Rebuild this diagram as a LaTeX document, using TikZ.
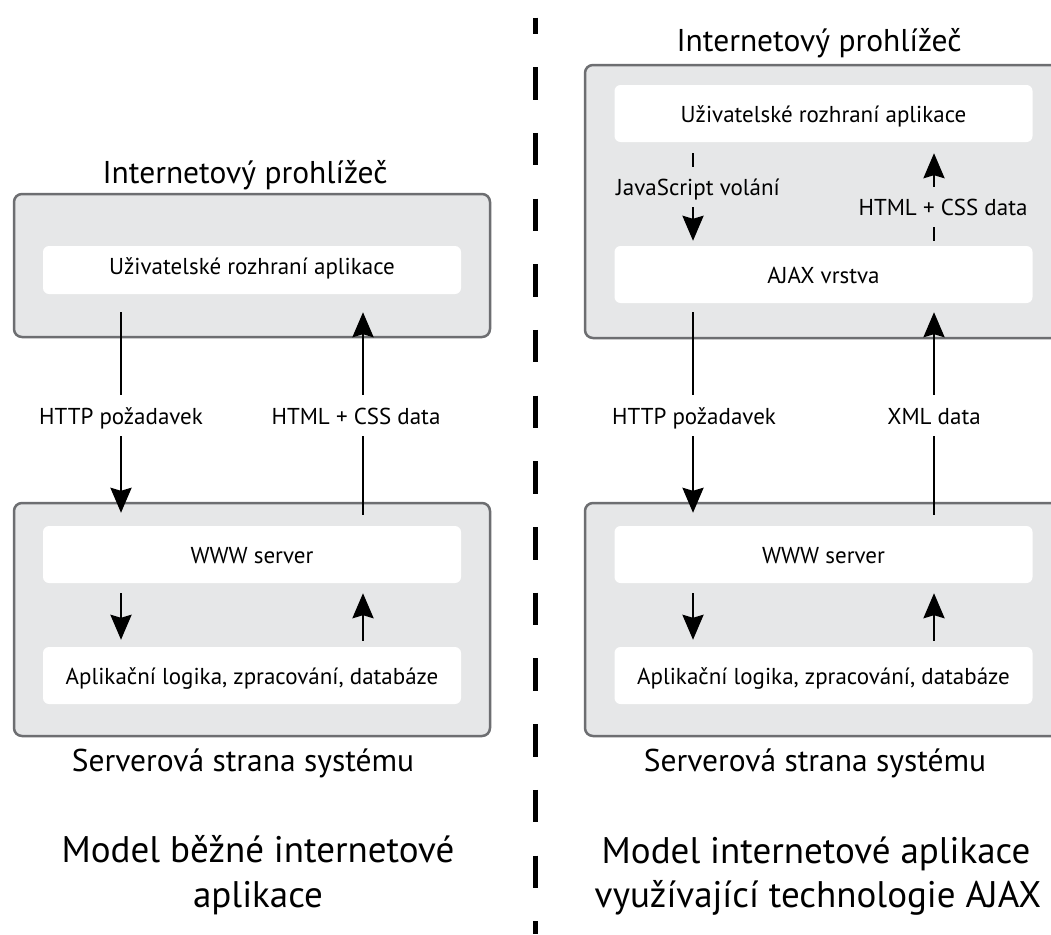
\documentclass[tikz,border=0pt]{standalone}
\usepackage{fontspec}
\setmainfont{PT Sans}
\usetikzlibrary{arrows.meta}
\definecolor{panelfill}{HTML}{E6E7E8}
\definecolor{panelline}{HTML}{6D6E71}
\tikzset{
  panel/.style={draw=panelline, line width=2.5pt, fill=panelfill, rounded corners=8pt,
    minimum width=476pt, inner sep=0pt},
  layer/.style={fill=white, rounded corners=6pt, minimum width=418pt, minimum height=57pt,
    inner sep=0pt, font=\fontsize{23}{27}\selectfont, text height=17pt, text depth=0pt},
  flowlabel/.style={inner sep=0pt, font=\fontsize{23}{27}\selectfont, text height=17pt, text depth=0pt},
  heading/.style={anchor=base, inner sep=0pt, font=\fontsize{31.5}{36}\selectfont},
  caption/.style={anchor=base, inner sep=0pt, font=\fontsize{37}{44}\selectfont},
  flow/.style={line width=2.7pt},
  flowtip/.style={flow, -{Stealth[length=25pt, width=21pt, inset=3pt]}},
}
\begin{document}
\begin{tikzpicture}[x=1pt, y=-1pt]
\clip (0,0) rectangle (1051,934);
\fill[white] (0,0) rectangle (1051,934);

% column positions of the vertical flows
\coordinate (xa) at (121,0);
\coordinate (xb) at (363,0);
\coordinate (xc) at (693,0);
\coordinate (xd) at (934,0);

% ---------------- classic model ----------------
\node[panel, minimum height=143pt] (browserA) at (252,265.5) {};
\node[panel, minimum height=233pt] (serverA) at (252,619.5) {};
\node[layer, minimum height=48pt, text depth=8pt] (uiA) at (252,270) {Uživatelské rozhraní aplikace};
\node[layer] (wwwA) at (252,554.5) {WWW server};
\node[layer] (appA) at (252,675.5) {Aplikační logika, zpracování, databáze};

\node[heading] (titleA) at (245,183) {Internetový prohlížeč};
\node[heading] (sideA) at (243,771) {Serverová strana systému};
\node[caption] (modelA1) at (258,862) {Model běžné internetové};
\node[caption] (modelA2) at (258,907) {aplikace};

\node[flowlabel, minimum height=41pt] (reqA) at (121,415.5) {HTTP požadavek};
\node[flowlabel, minimum height=41pt] (respA) at (356,415.5) {HTML + CSS data};

\draw[flow, shorten <=18pt] (uiA.south -| xa) -- (reqA.north -| xa);
\draw[flowtip, shorten >=13pt] (reqA.south -| xa) -- (wwwA.north -| xa);
\draw[flow, shorten <=11pt] (wwwA.north -| xb) -- (respA.south -| xb);
\draw[flowtip, shorten >=18pt] (respA.north -| xb) -- (uiA.south -| xb);
\draw[flowtip, shorten <=10pt, shorten >=7pt] (wwwA.south -| xa) -- (appA.north -| xa);
\draw[flowtip, shorten <=6pt, shorten >=10pt] (appA.north -| xb) -- (wwwA.south -| xb);

% ---------------- AJAX model ----------------
\node[panel, minimum height=273pt] (browserB) at (823,201.5) {};
\node[panel, minimum height=233pt] (serverB) at (823,619.5) {};
\node[layer] (uiB) at (823.5,113.5) {Uživatelské rozhraní aplikace};
\node[layer] (ajaxB) at (823.5,274.5) {AJAX vrstva};
\node[layer] (wwwB) at (823.5,554.5) {WWW server};
\node[layer] (appB) at (823.5,675.5) {Aplikační logika, zpracování, databáze};

\node[heading] (titleB) at (819,52) {Internetový prohlížeč};
\node[heading] (sideB) at (815,771) {Serverová strana systému};
\node[caption] (modelB1) at (816,863) {Model internetové aplikace};
\node[caption] (modelB2) at (818,907) {využívající technologie AJAX};

\node[flowlabel, minimum height=40pt] (jsB) at (698,187) {JavaScript volání};
\node[flowlabel, minimum height=40pt] (htmlB) at (943,207) {HTML + CSS data};
\node[flowlabel, minimum height=41pt] (reqB) at (694,415.5) {HTTP požadavek};
\node[flowlabel, minimum height=41pt] (xmlB) at (934,415.5) {XML data};

\draw[flow, shorten <=11pt] (uiB.south -| xc) -- (jsB.north -| xc);
\draw[flowtip, shorten >=5pt] (jsB.south -| xc) -- (ajaxB.north -| xc);
\draw[flow, shorten <=5pt] (ajaxB.north -| xd) -- (htmlB.south -| xd);
\draw[flowtip, shorten >=11pt] (htmlB.north -| xd) -- (uiB.south -| xd);

\draw[flow, shorten <=9pt] (ajaxB.south -| xc) -- (reqB.north -| xc);
\draw[flowtip, shorten >=13pt] (reqB.south -| xc) -- (wwwB.north -| xc);
\draw[flow, shorten <=11pt] (wwwB.north -| xd) -- (xmlB.south -| xd);
\draw[flowtip, shorten >=9pt] (xmlB.north -| xd) -- (ajaxB.south -| xd);
\draw[flowtip, shorten <=10pt, shorten >=7pt] (wwwB.south -| xc) -- (appB.north -| xc);
\draw[flowtip, shorten <=6pt, shorten >=10pt] (appB.north -| xd) -- (wwwB.south -| xd);

% ---------------- divider ----------------
\coordinate (divTop) at (535,17.7);
\coordinate (divBottom) at (535,934);
\draw[line width=5pt, dash pattern=on 32.5pt off 33.2pt, dash phase=16.3pt] (divTop) -- (divBottom);
\end{tikzpicture}
\end{document}
